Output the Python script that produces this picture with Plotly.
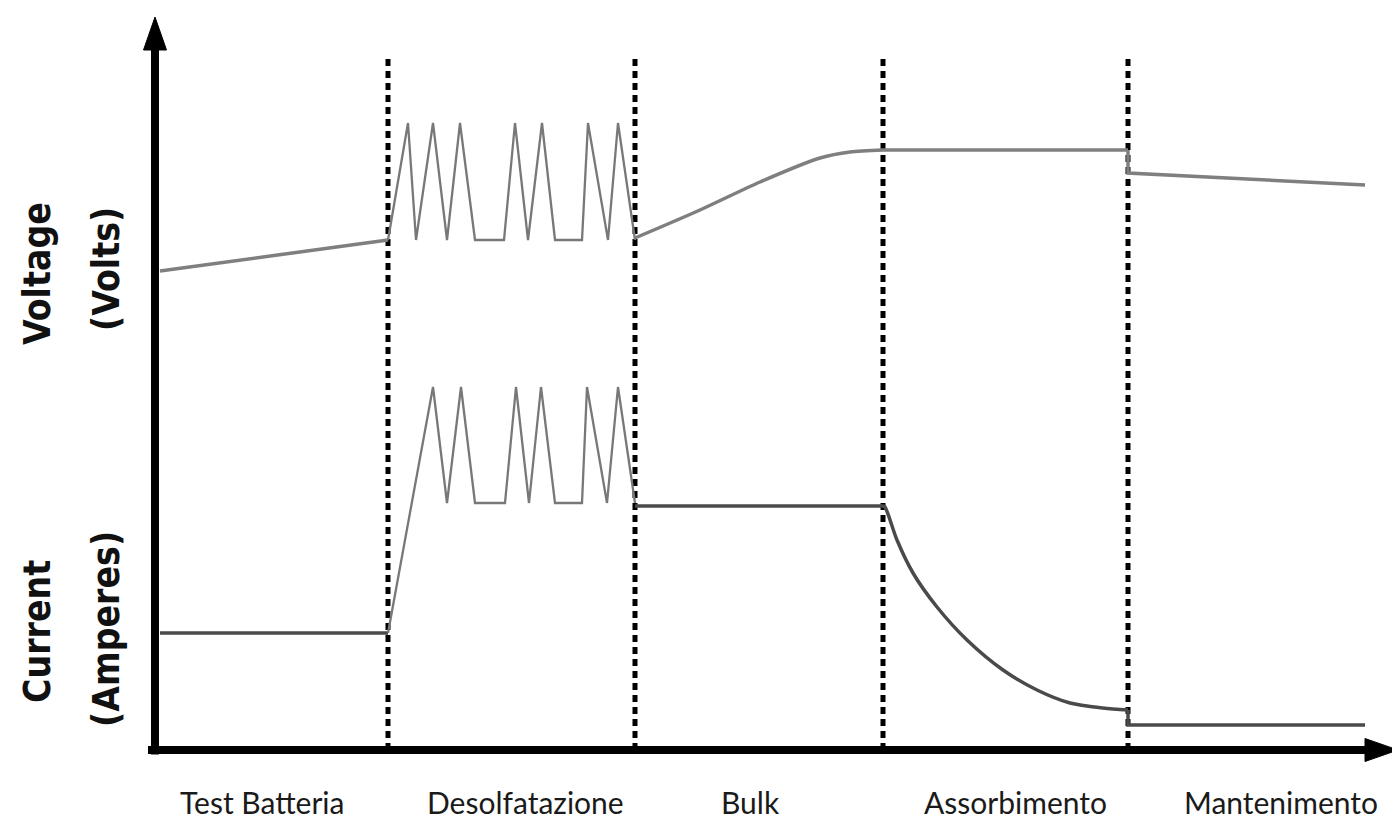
import plotly.graph_objects as go

# ---- data (time in arbitrary units, voltage/current in arbitrary units) ----
phase_labels = ["Test Batteria", "Desolfatazione", "Bulk", "Assorbimento", "Mantenimento"]
phase_label_t = [1.07, 3.70, 5.95, 8.60, 11.26]
phase_bounds = [2.33, 4.80, 7.28, 9.73]

volt_test_t = [0.05, 2.33]
volt_test_v = [47.9, 51.0]
volt_desulf_t = [2.33, 2.53, 2.61, 2.78, 2.92, 3.05, 3.20, 3.49, 3.60, 3.73, 3.87, 4.00, 4.27, 4.33, 4.53, 4.63, 4.80]
volt_desulf_v = [51.0, 62.7, 51.0, 62.7, 51.0, 62.7, 51.0, 51.0, 62.7, 51.0, 62.7, 51.0, 51.0, 62.7, 51.0, 62.7, 51.0]
volt_bulk_t = [4.80, 5.45, 6.05, 6.65, 6.95, 7.28]
volt_bulk_v = [51.2, 54.0, 56.8, 59.2, 59.8, 60.0]
volt_abs_t = [7.28, 9.73]
volt_abs_v = [60.0, 60.0]
volt_float_t = [9.73, 9.73, 12.10]
volt_float_v = [60.0, 57.7, 56.5]

curr_test_t = [0.05, 2.33]
curr_test_v = [11.7, 11.7]
curr_desulf_t = [2.33, 2.78, 2.92, 3.06, 3.20, 3.50, 3.61, 3.74, 3.86, 4.00, 4.27, 4.32, 4.52, 4.63, 4.80]
curr_desulf_v = [11.7, 36.3, 24.7, 36.3, 24.7, 24.7, 36.3, 24.7, 36.3, 24.7, 24.7, 36.3, 24.7, 36.3, 24.7]
curr_bulk_t = [4.80, 7.28]
curr_bulk_v = [24.4, 24.4]
curr_abs_t = [7.28, 7.30, 7.42, 7.58, 7.82, 8.12, 8.48, 8.82, 9.15, 9.48, 9.73]
curr_abs_v = [24.4, 24.3, 21.0, 17.7, 14.3, 11.0, 8.0, 6.0, 4.7, 4.2, 4.0]
curr_float_t = [9.73, 9.73, 12.10]
curr_float_v = [4.0, 2.5, 2.5]

V_COL = "#7f7f7f"
C_COL = "#4a4a4a"
Z_COL = "#787878"

fig = go.Figure()

def add(t, v, color, width, shape="linear", smoothing=1.0):
    line = dict(color=color, width=width, shape=shape)
    if shape == "spline":
        line["smoothing"] = smoothing
    fig.add_trace(go.Scatter(x=t, y=v, mode="lines", line=line,
                             hoverinfo="skip", showlegend=False))

add(volt_test_t, volt_test_v, V_COL, 3.5)
add(volt_desulf_t, volt_desulf_v, Z_COL, 2.3)
add(volt_bulk_t, volt_bulk_v, V_COL, 3.5, "spline", 0.8)
add(volt_abs_t, volt_abs_v, V_COL, 3.5)
add(volt_float_t, volt_float_v, V_COL, 3.5)

add(curr_test_t, curr_test_v, C_COL, 3.5)
add(curr_desulf_t, curr_desulf_v, Z_COL, 2.3)
add(curr_bulk_t, curr_bulk_v, C_COL, 3.5)
add(curr_abs_t, curr_abs_v, C_COL, 3.5, "spline", 0.8)
add(curr_float_t, curr_float_v, C_COL, 3.5)

shapes = []
# dashed phase boundaries
for b in phase_bounds:
    shapes.append(dict(type="line", x0=b, x1=b, y0=0, y1=69.2, xref="x", yref="y",
                       line=dict(color="black", width=5, dash="7px,5px"), layer="below"))
# axes
shapes.append(dict(type="line", x0=0, x1=0, y0=-0.45, y1=70.5, xref="x", yref="y",
                   line=dict(color="black", width=8)))
shapes.append(dict(type="line", x0=-0.07, x1=12.15, y0=0, y1=0, xref="x", yref="y",
                   line=dict(color="black", width=8)))
# arrowheads
shapes.append(dict(type="path", path="M -0.115 70 L 0 73.3 L 0.115 70 Z", xref="x", yref="y",
                   fillcolor="black", line=dict(color="black", width=1)))
shapes.append(dict(type="path", path="M 12.10 1.15 L 12.43 0 L 12.10 -1.15 Z", xref="x", yref="y",
                   fillcolor="black", line=dict(color="black", width=1)))

annotations = []
for lab, t in zip(phase_labels, phase_label_t):
    annotations.append(dict(x=t, y=-5.2, xref="x", yref="y", text=lab, showarrow=False,
                            font=dict(family="Lato", size=30, color="#1a1a1a")))

LBL_FONT = dict(family="DejaVu Sans Condensed, DejaVu Sans", size=37, color="#111111", weight="bold")
for txt, x, y in [("Voltage", -1.18, 47.6), ("(Volts)", -0.49, 48.1),
                  ("Current", -1.18, 11.8), ("(Amperes)", -0.49, 12.1)]:
    annotations.append(dict(x=x, y=y, xref="x", yref="y", text=txt, textangle=-90,
                            showarrow=False, font=LBL_FONT))

# page body adds an 8px offset; ranges compensate so marks land where intended
fig.update_layout(
    width=1392, height=812,
    margin=dict(l=0, r=0, t=0, b=0),
    paper_bgcolor="white", plot_bgcolor="white",
    xaxis=dict(range=[-1.47, 12.45], visible=False, fixedrange=True),
    yaxis=dict(range=[-7.0, 74.2], visible=False, fixedrange=True),
    shapes=shapes, annotations=annotations,
)

fig.write_html("out.html")
